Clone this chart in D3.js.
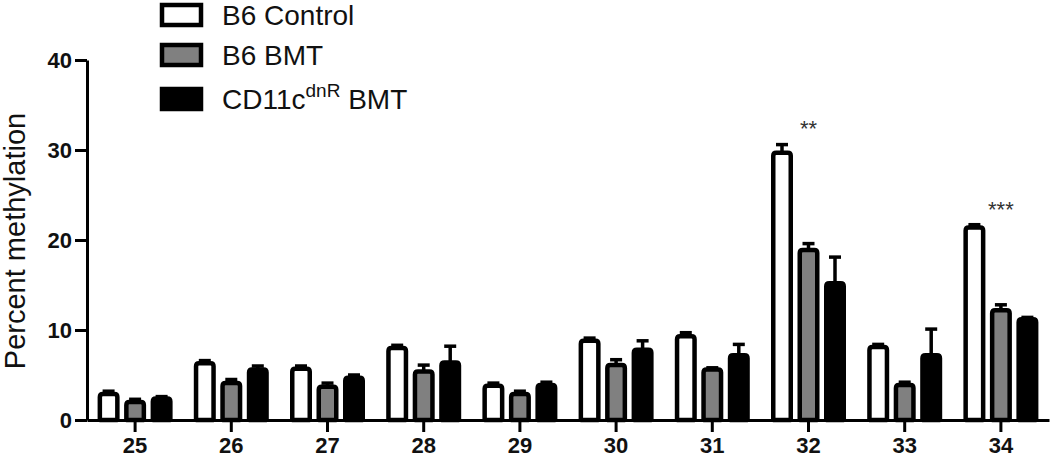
<!DOCTYPE html>
<html>
<head>
<meta charset="utf-8">
<script src="https://cdn.jsdelivr.net/npm/d3@7/dist/d3.min.js"></script>
<style>
  html, body { margin: 0; padding: 0; background: #fff; }
  svg { display: block; font-family: "Liberation Sans", Arial, sans-serif; }
</style>
</head>
<body>
<div id="chart"></div>
<script>
// CpG site methylation, three groups, mean + upper SEM bar

const W = 1050;
const H = 457;

const sites = ['25', '26', '27', '28', '29', '30', '31', '32', '33', '34'];
const groups = ['B6 Control', 'B6 BMT', 'CD11c BMT'];

const controlMean = [2.9, 6.3, 5.7, 8.0, 3.8, 8.8, 9.3, 29.7, 8.1, 21.4];
const controlErr  = [0.3, 0.3, 0.3, 0.3, 0.3, 0.3, 0.4, 0.9, 0.3, 0.3];
const bmtMean     = [2.0, 4.1, 3.7, 5.4, 2.9, 6.1, 5.6, 18.9, 3.9, 12.2];
const bmtErr      = [0.3, 0.4, 0.4, 0.7, 0.3, 0.6, 0.2, 0.7, 0.3, 0.6];
const dnrMean     = [2.4, 5.6, 4.7, 6.4, 3.9, 7.8, 7.2, 15.2, 7.2, 11.2];
const dnrErr      = [0.2, 0.4, 0.3, 1.8, 0.3, 1.0, 1.2, 2.9, 2.9, 0.2];

const yTicks = [0, 10, 20, 30, 40];
const stars = [{ site: '32', text: '**' }, { site: '34', text: '***' }];

const FILL = { 'B6 Control': '#ffffff', 'B6 BMT': '#808080', 'CD11c BMT': '#000000' };

const series = [
  { key: 'B6 Control', mean: controlMean, err: controlErr },
  { key: 'B6 BMT', mean: bmtMean, err: bmtErr },
  { key: 'CD11c BMT', mean: dnrMean, err: dnrErr },
];

const bars = [];
series.forEach(s => sites.forEach((site, i) => {
  bars.push({ key: s.key, site, v: s.mean[i], e: s.err[i] });
}));

const x = d3.scaleBand().domain(sites).range([87, 1049]).padding(0);
const xs = d3.scalePoint().domain(groups).range([-26.5, 26.5]);
const y = d3.scaleLinear().domain([0, 40]).range([420, 60]);
const BAR_W = 17.5;
const SW = 4.5;

const cxOf = d => x(d.site) + x.bandwidth() / 2 + xs(d.key);

const svg = d3.select('#chart').append('svg')
  .attr('width', W).attr('height', H);

// bar body with slightly rounded top corners
function barPath(cx, top, bottom) {
  const l = cx - BAR_W / 2, r = cx + BAR_W / 2, k = 3;
  return `M${l},${bottom}L${l},${top + k}Q${l},${top} ${l + k},${top}` +
         `L${r - k},${top}Q${r},${top} ${r},${top + k}L${r},${bottom}Z`;
}

const barG = svg.append('g');

barG.selectAll('path.bar')
  .data(bars)
  .join('path')
  .attr('class', 'bar')
  .attr('d', d => barPath(cxOf(d), y(d.v), y(0)))
  .attr('fill', d => FILL[d.key])
  .attr('stroke', '#000')
  .attr('stroke-width', SW)
  .attr('stroke-linejoin', 'round');

// upper error bars
barG.selectAll('line.err')
  .data(bars)
  .join('line')
  .attr('class', 'err')
  .attr('x1', cxOf).attr('x2', cxOf)
  .attr('y1', d => y(d.v))
  .attr('y2', d => y(d.v + d.e))
  .attr('stroke', '#000')
  .attr('stroke-width', 3.5);

barG.selectAll('line.cap')
  .data(bars)
  .join('line')
  .attr('class', 'cap')
  .attr('x1', d => cxOf(d) - 6)
  .attr('x2', d => cxOf(d) + 6)
  .attr('y1', d => y(d.v + d.e))
  .attr('y2', d => y(d.v + d.e))
  .attr('stroke', '#000')
  .attr('stroke-width', 3.5);

// axes
const yAxis = svg.append('g')
  .attr('transform', 'translate(87,0)')
  .call(d3.axisLeft(y).tickValues(yTicks).tickSize(12).tickSizeOuter(0).tickPadding(3));

const xAxis = svg.append('g')
  .attr('transform', `translate(0,${y(0)})`)
  .call(d3.axisBottom(x).tickSize(12).tickSizeOuter(0).tickPadding(5));

[yAxis, xAxis].forEach(g => {
  g.select('.domain').attr('stroke', '#000').attr('stroke-width', 3);
  g.selectAll('.tick line').attr('stroke', '#000').attr('stroke-width', 3);
  g.selectAll('.tick text')
    .attr('fill', '#111')
    .attr('font-family', '"Liberation Sans", Arial, sans-serif')
    .attr('font-weight', 'bold')
    .attr('font-size', 22);
});

svg.append('text')
  .attr('transform', 'translate(25,241) rotate(-90)')
  .attr('text-anchor', 'middle')
  .attr('font-size', 29)
  .attr('fill', '#111')
  .text('Percent methylation');

// significance stars
svg.selectAll('text.star')
  .data(stars)
  .join('text')
  .attr('class', 'star')
  .attr('x', d => x(d.site) + x.bandwidth() / 2)
  .attr('y', d => d.site === '32' ? 136 : 217)
  .attr('text-anchor', 'middle')
  .attr('font-size', 22)
  .attr('fill', '#333')
  .text(d => d.text);

// legend
const legend = svg.append('g');
const legendY = [15, 55, 99];
groups.forEach((gname, i) => {
  const row = legend.append('g').attr('transform', `translate(0,${legendY[i]})`);
  row.append('rect')
    .attr('x', 162).attr('y', -10)
    .attr('width', 39).attr('height', 20)
    .attr('fill', FILL[gname])
    .attr('stroke', '#000').attr('stroke-width', 4.5);
  const t = row.append('text')
    .attr('x', 222).attr('y', 10)
    .attr('font-size', 28)
    .attr('fill', '#111');
  if (gname === 'CD11c BMT') {
    t.append('tspan').text('CD11c');
    t.append('tspan').attr('dy', -12).attr('font-size', 19).text('dnR');
    t.append('tspan').attr('dy', 12).text(' BMT');
  } else {
    t.text(gname);
  }
});
</script>
</body>
</html>
